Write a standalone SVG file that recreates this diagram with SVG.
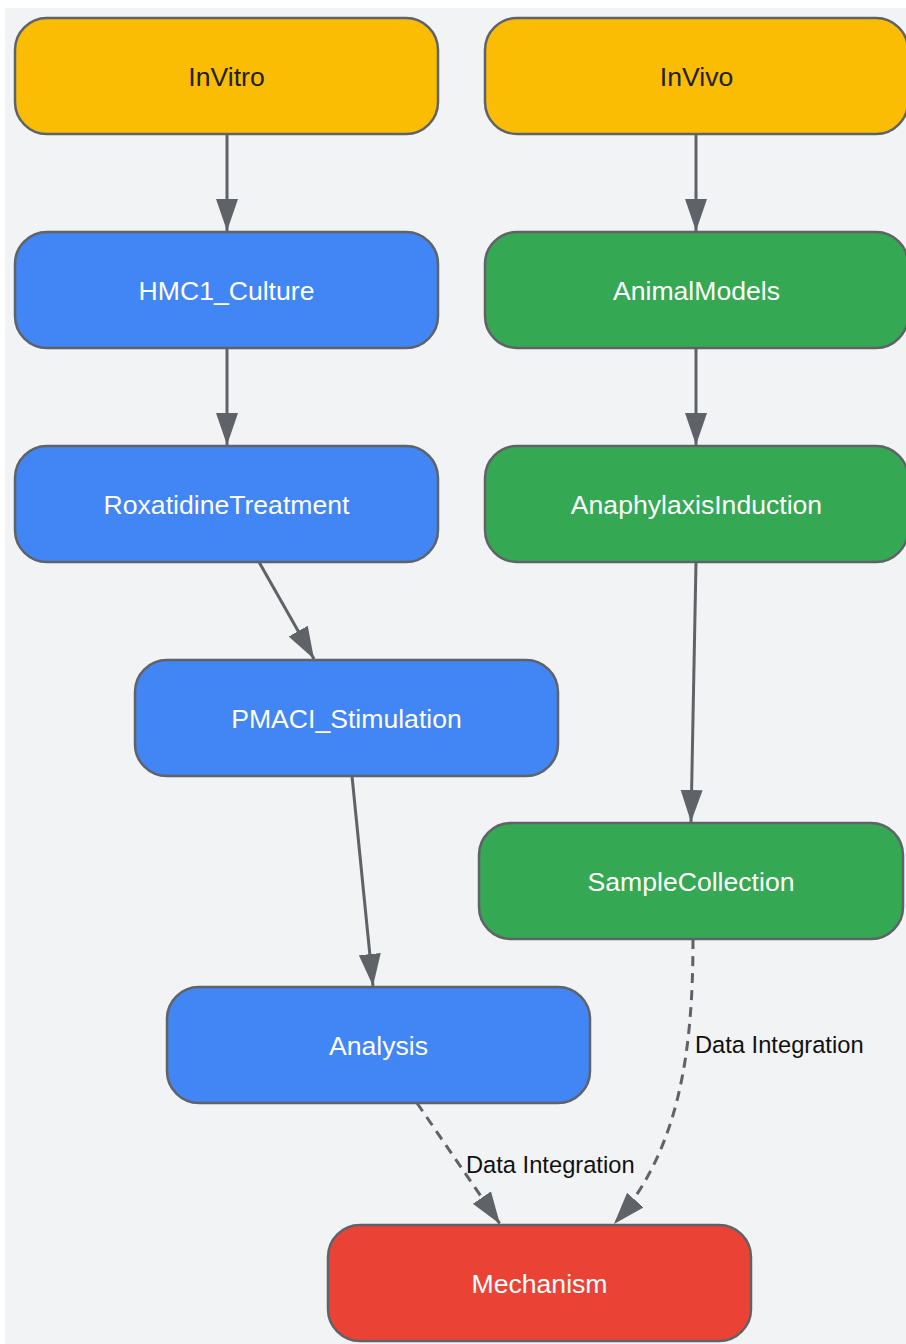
<svg xmlns="http://www.w3.org/2000/svg" width="906" height="1344" viewBox="0 0 906 1344">
<style>
.bg{fill:#f1f3f5}
.node rect{stroke:#5f6368;stroke-width:2.5}
.y rect{fill:#fbbc04}
.b rect{fill:#4285f4}
.g rect{fill:#34a853}
.r rect{fill:#ea4335}
.node text{font-family:"Liberation Sans",Arial,sans-serif;font-size:26.6px;text-anchor:middle;dominant-baseline:central;fill:#ffffff}
.y text{fill:#202124}
.edge{fill:none;stroke:#5f6368;stroke-width:3}
.dash{stroke-dasharray:10 7}
.lbl{font-family:"Liberation Sans",Arial,sans-serif;font-size:23.7px;fill:#111111;dominant-baseline:central}
</style>
<defs>
<marker id="arr" markerUnits="userSpaceOnUse" markerWidth="34" markerHeight="24" refX="32" refY="11" orient="auto">
<path d="M0,0 L32,11 L0,22 z" fill="#5f6368"/>
</marker>
</defs>
<rect class="bg" x="5" y="8" width="901" height="1336"/>
<g id="connectors">
<path class="edge" d="M227,134 L227,231" marker-end="url(#arr)"/>
<path class="edge" d="M696,134 L696,231" marker-end="url(#arr)"/>
<path class="edge" d="M227,348 L227,445" marker-end="url(#arr)"/>
<path class="edge" d="M696,348 L696,445" marker-end="url(#arr)"/>
<path class="edge" d="M259,562 L314,659" marker-end="url(#arr)"/>
<path class="edge" d="M352,776 L373,986" marker-end="url(#arr)"/>
<path class="edge" d="M696,562 L691,822" marker-end="url(#arr)"/>
<path class="edge dash" d="M417,1103 L500,1224" marker-end="url(#arr)"/>
<path class="edge dash" d="M693,939 C693,1050 680,1150 614,1224" marker-end="url(#arr)"/>
<text class="lbl" x="695" y="1045">Data Integration</text>
<text class="lbl" x="466" y="1165">Data Integration</text>
</g>
<g id="InVitro" class="node y"><rect x="15" y="18" width="423" height="116" rx="32"/><text x="226.5" y="77">InVitro</text></g>
<g id="InVivo" class="node y"><rect x="485" y="18" width="423" height="116" rx="32"/><text x="696.5" y="77">InVivo</text></g>
<g id="HMC1_Culture" class="node b"><rect x="15" y="232" width="423" height="116" rx="32"/><text x="226.5" y="291">HMC1_Culture</text></g>
<g id="AnimalModels" class="node g"><rect x="485" y="232" width="423" height="116" rx="32"/><text x="696.5" y="291">AnimalModels</text></g>
<g id="RoxatidineTreatment" class="node b"><rect x="15" y="446" width="423" height="116" rx="32"/><text x="226.5" y="505">RoxatidineTreatment</text></g>
<g id="AnaphylaxisInduction" class="node g"><rect x="485" y="446" width="423" height="116" rx="32"/><text x="696.5" y="505">AnaphylaxisInduction</text></g>
<g id="PMACI_Stimulation" class="node b"><rect x="135" y="660" width="423" height="116" rx="32"/><text x="346.5" y="719">PMACI_Stimulation</text></g>
<g id="SampleCollection" class="node g"><rect x="479" y="823" width="424" height="116" rx="32"/><text x="691" y="882">SampleCollection</text></g>
<g id="Analysis" class="node b"><rect x="167" y="987" width="423" height="116" rx="32"/><text x="378.5" y="1046">Analysis</text></g>
<g id="Mechanism" class="node r"><rect x="328" y="1225" width="423" height="116" rx="32"/><text x="539.5" y="1284">Mechanism</text></g>
</svg>
